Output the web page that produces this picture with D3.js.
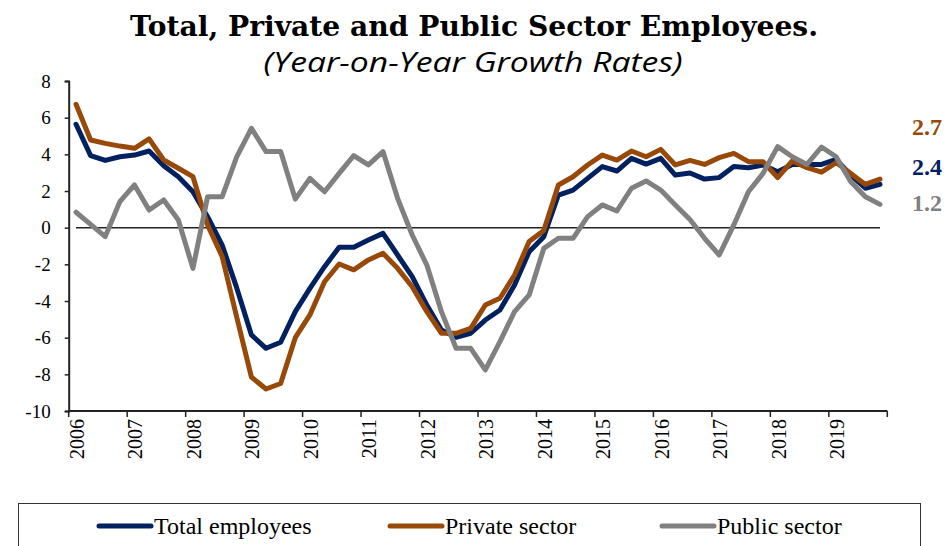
<!DOCTYPE html>
<html>
<head>
<meta charset="utf-8">
<script src="https://cdn.jsdelivr.net/npm/d3@7/dist/d3.min.js"></script>
<style>
  html, body { margin: 0; padding: 0; background: #ffffff; }
  svg { display: block; }
</style>
</head>
<body>
<svg id="chart" width="952" height="546"></svg>
<script>
// ---- data ----
const years = ["2006","2007","2008","2009","2010","2011","2012","2013","2014","2015","2016","2017","2018","2019"];
const quarters = ["Q1","Q2","Q3","Q4"];
const periods = years.flatMap(y => quarters.map(q => y + q));

const totalEmployees = [
  5.64, 3.93, 3.67, 3.87, 3.96, 4.18, 3.38, 2.78, 1.96, 0.60, -0.95, -3.30, -5.85, -6.58,
  -6.25, -4.58, -3.31, -2.13, -1.07, -1.07, -0.67, -0.31, -1.49, -2.67, -4.22, -5.58, -5.98, -5.76,
  -5.04, -4.49, -3.13, -1.31, -0.49, 1.78, 2.05, 2.69, 3.33, 3.09, 3.78, 3.47, 3.78, 2.87,
  2.98, 2.65, 2.73, 3.33, 3.27, 3.42, 3.05, 3.45, 3.45, 3.45, 3.72, 2.87, 2.15, 2.36
];
const privateSector = [
  6.73, 4.78, 4.60, 4.45, 4.33, 4.84, 3.69, 3.24, 2.78, 0.15, -1.58, -4.90, -8.15, -8.80,
  -8.50, -6.00, -4.76, -2.95, -1.98, -2.30, -1.76, -1.40, -2.22, -3.22, -4.58, -5.76, -5.76, -5.49,
  -4.22, -3.85, -2.58, -0.76, -0.15, 2.33, 2.78, 3.42, 3.96, 3.69, 4.18, 3.87, 4.27, 3.42,
  3.67, 3.45, 3.82, 4.05, 3.60, 3.60, 2.73, 3.64, 3.27, 3.03, 3.55, 2.96, 2.36, 2.65
];
const publicSector = [
  0.84, 0.18, -0.49, 1.42, 2.33, 0.96, 1.51, 0.42, -2.22, 1.69, 1.69, 3.87, 5.42, 4.15,
  4.15, 1.56, 2.69, 1.96, 2.96, 3.93, 3.42, 4.15, 1.60, -0.40, -2.04, -4.58, -6.58, -6.58,
  -7.76, -6.22, -4.58, -3.67, -1.13, -0.58, -0.58, 0.60, 1.24, 0.91, 2.15, 2.55, 2.05, 1.24,
  0.45, -0.58, -1.49, 0.15, 1.96, 2.96, 4.42, 3.87, 3.45, 4.40, 3.87, 2.51, 1.69, 1.27
];
const yTicks = [8, 6, 4, 2, 0, -2, -4, -6, -8, -10];
const seriesNames = ["Total employees", "Private sector", "Public sector"];
const endLabels = ["2.4", "2.7", "1.2"];
const seriesColors = ["#002060", "#984807", "#808080"];

// ---- layout ----
const svg = d3.select("#chart");
const serif = "'Liberation Serif', 'DejaVu Serif', serif";
const plot = { left: 68.7, right: 887.3, top: 81, bottom: 411 };

const x = d3.scaleBand().domain(periods).range([plot.left, plot.right]).padding(0);
const xc = p => x(p) + x.bandwidth() / 2;
const y = d3.scaleLinear().domain([-10, 8]).range([plot.bottom, plot.top]);

// Title
svg.append("text")
  .attr("x", 474).attr("y", 36)
  .attr("text-anchor", "middle")
  .attr("font-family", "'DejaVu Serif', serif").attr("font-weight", "bold").attr("font-size", 28)
  .attr("textLength", 688).attr("lengthAdjust", "spacingAndGlyphs")
  .attr("fill", "#000")
  .text("Total, Private and Public Sector Employees.");
svg.append("text")
  .attr("x", 473).attr("y", 72)
  .attr("text-anchor", "middle")
  .attr("font-family", "'Open Sans', sans-serif").attr("font-style", "italic").attr("font-size", 28)
  .attr("textLength", 419).attr("lengthAdjust", "spacingAndGlyphs")
  .attr("fill", "#000")
  .text("(Year-on-Year Growth Rates)");

// Y axis
const yAxis = d3.axisLeft(y).tickValues(yTicks).tickSize(4).tickPadding(14).tickFormat(d => String(d));
const gy = svg.append("g").attr("transform", `translate(${plot.left},0)`).call(yAxis);
gy.select(".domain").attr("stroke", "#222").attr("stroke-width", 2);
gy.selectAll(".tick line").attr("stroke", "#222").attr("stroke-width", 1.5);
gy.selectAll(".tick text").attr("font-family", serif).attr("font-size", 19).attr("fill", "#000");

// X axis (baseline at -10), ticks every year at band boundaries
const gx = svg.append("g").attr("transform", `translate(0,${plot.bottom})`);
gx.append("line")
  .attr("x1", plot.left).attr("x2", plot.right).attr("y1", 0).attr("y2", 0)
  .attr("stroke", "#222").attr("stroke-width", 2);
const boundaries = years.map(yr => x(yr + "Q1")).concat([plot.right]);
gx.selectAll("line.tk").data(boundaries).join("line").attr("class", "tk")
  .attr("x1", d => d).attr("x2", d => d).attr("y1", 0).attr("y2", 6)
  .attr("stroke", "#222").attr("stroke-width", 1.5);
gx.selectAll("text.yr").data(years).join("text").attr("class", "yr")
  .attr("transform", d => `translate(${xc(d + "Q1") + 1},${8}) rotate(-90)`)
  .attr("text-anchor", "end").attr("dominant-baseline", "central")
  .attr("font-family", serif).attr("font-size", 20).attr("fill", "#000")
  .text(d => d);

// Zero line
svg.append("line")
  .attr("x1", xc(periods[0])).attr("x2", xc(periods[periods.length - 1]))
  .attr("y1", y(0)).attr("y2", y(0))
  .attr("stroke", "#222").attr("stroke-width", 1.5);

// Lines
const allSeries = [totalEmployees, privateSector, publicSector];
const line = d3.line().x((d, i) => xc(periods[i])).y(d => y(d));
svg.selectAll("path.series").data(allSeries).join("path").attr("class", "series")
  .attr("d", d => line(d))
  .attr("fill", "none")
  .attr("stroke", (d, i) => seriesColors[i])
  .attr("stroke-width", 5)
  .attr("stroke-linejoin", "round")
  .attr("stroke-linecap", "round");

// End value labels
const endY = [167, 127, 203];
svg.selectAll("text.endlab").data(endLabels).join("text").attr("class", "endlab")
  .attr("x", 912).attr("y", (d, i) => endY[i])
  .attr("dominant-baseline", "central")
  .attr("font-family", serif).attr("font-weight", "bold").attr("font-size", 24)
  .attr("fill", (d, i) => seriesColors[i])
  .text(d => d);

// Legend
svg.append("rect")
  .attr("x", 18.5).attr("y", 503.5).attr("width", 902).attr("height", 60)
  .attr("fill", "none").attr("stroke", "#333").attr("stroke-width", 1);
const legendX = [99, 390, 662];
const lg = svg.selectAll("g.leg").data(seriesNames).join("g").attr("class", "leg")
  .attr("transform", (d, i) => `translate(${legendX[i]},526)`);
lg.append("line").attr("x1", 0).attr("x2", 52).attr("y1", 0).attr("y2", 0)
  .attr("stroke", (d, i) => seriesColors[i]).attr("stroke-width", 5).attr("stroke-linecap", "round");
lg.append("text").attr("x", 55).attr("y", 0)
  .attr("dominant-baseline", "central")
  .attr("font-family", serif).attr("font-size", 24).attr("fill", "#000")
  .text(d => d);
</script>
</body>
</html>
